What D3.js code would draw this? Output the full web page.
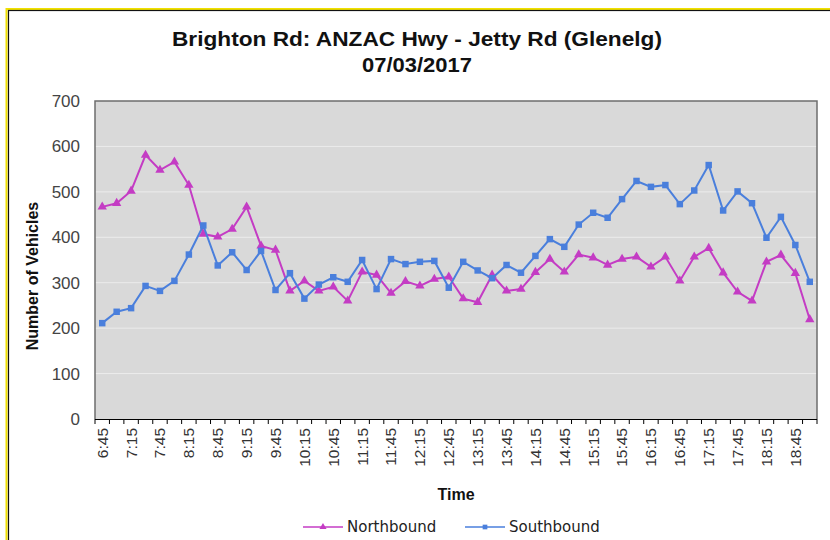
<!DOCTYPE html>
<html lang="en">
<head>
<meta charset="UTF-8">
<title>Brighton Rd traffic</title>
<script src="https://d3js.org/d3.v7.min.js"></script>
<style>
    body { margin: 0; background: #fff; }
    svg { display: block; font-family: "Liberation Sans", Arial, sans-serif; }
    .ytick text { fill: #444; font-size: 17px; }
    .xtick text { fill: #333; font-size: 15.5px; }
    .legend text { font-family: "DejaVu Sans", sans-serif; font-size: 15px; fill: #222; }
</style>
</head>
<body>
<svg width="830" height="540"></svg>
<script>
// 15 minute intervals, 6:45 .. 19:00
const times = ["6:45","7:00","7:15","7:30","7:45","8:00","8:15","8:30","8:45","9:00",
    "9:15","9:30","9:45","10:00","10:15","10:30","10:45","11:00","11:15","11:30",
    "11:45","12:00","12:15","12:30","12:45","13:00","13:15","13:30","13:45","14:00",
    "14:15","14:30","14:45","15:00","15:15","15:30","15:45","16:00","16:15","16:30",
    "16:45","17:00","17:15","17:30","17:45","18:00","18:15","18:30","18:45","19:00"];

const northbound = [467,475,502,581,548,566,515,407,401,418,
    467,381,372,282,304,282,291,260,324,317,
    277,303,293,308,313,265,257,317,282,286,
    323,352,324,362,355,339,352,357,335,357,
    304,357,376,322,280,260,346,361,321,219];

const southbound = [211,236,244,293,282,304,362,426,338,367,
    328,370,284,321,265,296,312,302,350,286,
    352,341,346,348,289,346,327,310,339,322,
    359,396,379,428,454,443,484,524,511,515,
    473,503,559,459,501,475,399,445,383,302];

const yTicks = [0,100,200,300,400,500,600,700];

const svg = d3.select("svg");
const pLeft = 95, pRight = 817, pTop = 101, pBottom = 419;

// outer frame (yellow + black)
svg.append("rect").attr("x", 6.5).attr("y", 9).attr("width", 840).attr("height", 560)
    .attr("fill", "none").attr("stroke", "#f0e000").attr("stroke-width", 2);
svg.append("rect").attr("x", 8.5).attr("y", 10.5).attr("width", 840).attr("height", 560)
    .attr("fill", "none").attr("stroke", "#111").attr("stroke-width", 1.2);

const x = d3.scaleBand().domain(times).range([pLeft, pRight]);
const y = d3.scaleLinear().domain([0, 700]).range([pBottom, pTop]);

// plot background
svg.append("rect").attr("x", pLeft).attr("y", pTop)
    .attr("width", pRight - pLeft).attr("height", pBottom - pTop)
    .attr("fill", "#d9d9d9");

// gridlines
svg.append("g").selectAll("line").data(yTicks.filter(d => d > 0 && d < 700)).enter()
    .append("line")
    .attr("x1", pLeft).attr("x2", pRight)
    .attr("y1", d => y(d)).attr("y2", d => y(d))
    .attr("stroke", "#ececec").attr("stroke-width", 1);

// plot border
svg.append("path")
    .attr("d", `M${pLeft},${pBottom}V${pTop}H${pRight}V${pBottom}`)
    .attr("fill", "none").attr("stroke", "#6e6e6e").attr("stroke-width", 1.5);

// y axis labels
const yAxis = svg.append("g").attr("class", "ytick")
    .attr("transform", `translate(${pLeft},0)`)
    .call(d3.axisLeft(y).tickValues(yTicks).tickSize(0).tickPadding(15));
yAxis.select(".domain").remove();
yAxis.selectAll("text").attr("font-family", "Liberation Sans, Arial, sans-serif");

// x axis
const xAxis = svg.append("g").attr("class", "xtick")
    .attr("transform", `translate(0,${pBottom})`)
    .call(d3.axisBottom(x).tickSize(0).tickFormat((d, i) => i % 2 === 0 ? d : ""));
xAxis.select(".domain").attr("stroke", "#000").attr("stroke-width", 1.2)
    .attr("d", `M${pLeft},0.5H${pRight}`);
xAxis.selectAll("text")
    .attr("font-family", "Liberation Sans, Arial, sans-serif")
    .attr("transform", "rotate(-90)")
    .attr("x", -9).attr("y", 0).attr("dy", "0.35em")
    .attr("text-anchor", "end");

// tick marks at category boundaries
svg.append("g").selectAll("line").data(d3.range(times.length + 1)).enter()
    .append("line")
    .attr("x1", i => pLeft + i * x.step()).attr("x2", i => pLeft + i * x.step())
    .attr("y1", pBottom).attr("y2", pBottom + 5)
    .attr("stroke", "#000").attr("stroke-width", 1);

const cx = d => x(d) + x.bandwidth() / 2;

const series = [
    {name: "Northbound", values: northbound, color: "#c43cc4", marker: d3.symbolTriangle},
    {name: "Southbound", values: southbound, color: "#4a7fdc", marker: d3.symbolSquare}
];

const line = d3.line().x((d, i) => cx(times[i])).y(d => y(d));

series.forEach(s => {
    svg.append("path").datum(s.values)
        .attr("d", line)
        .attr("fill", "none").attr("stroke", s.color).attr("stroke-width", 2);
    svg.append("g").selectAll("path").data(s.values).enter()
        .append("path")
        .attr("d", d3.symbol().type(s.marker).size(s.marker === d3.symbolSquare ? 42 : 38))
        .attr("transform", (d, i) => `translate(${cx(times[i])},${y(d)})`)
        .attr("fill", s.color);
});

// titles
svg.append("text").attr("x", 417).attr("y", 46).attr("text-anchor", "middle")
    .attr("font-size", 21).attr("font-weight", "bold").attr("fill", "#111")
    .attr("textLength", 490).attr("lengthAdjust", "spacingAndGlyphs")
    .text("Brighton Rd: ANZAC Hwy - Jetty Rd (Glenelg)");
svg.append("text").attr("x", 417).attr("y", 72).attr("text-anchor", "middle")
    .attr("font-size", 21).attr("font-weight", "bold").attr("fill", "#111")
    .attr("textLength", 110).attr("lengthAdjust", "spacingAndGlyphs")
    .text("07/03/2017");

svg.append("text")
    .attr("transform", "translate(38,276) rotate(-90)")
    .attr("text-anchor", "middle")
    .attr("font-size", 16).attr("font-weight", "bold").attr("fill", "#111")
    .text("Number of Vehicles");

svg.append("text").attr("x", 456).attr("y", 500).attr("text-anchor", "middle")
    .attr("font-size", 16).attr("font-weight", "bold").attr("fill", "#111")
    .text("Time");

// legend
const legend = svg.append("g").attr("class", "legend");
const legendX = [303, 465];
series.forEach((s, i) => {
    const g = legend.append("g").attr("transform", `translate(${legendX[i]},527)`);
    g.append("line").attr("x1", 0).attr("x2", 40).attr("y1", 0).attr("y2", 0)
        .attr("stroke", s.color).attr("stroke-width", 1.5);
    g.append("path")
        .attr("d", d3.symbol().type(s.marker).size(22))
        .attr("transform", "translate(20,0)")
        .attr("fill", s.color);
    g.append("text").attr("x", 44).attr("y", 0).attr("dy", "0.35em").text(s.name);
});
</script>
</body>
</html>
